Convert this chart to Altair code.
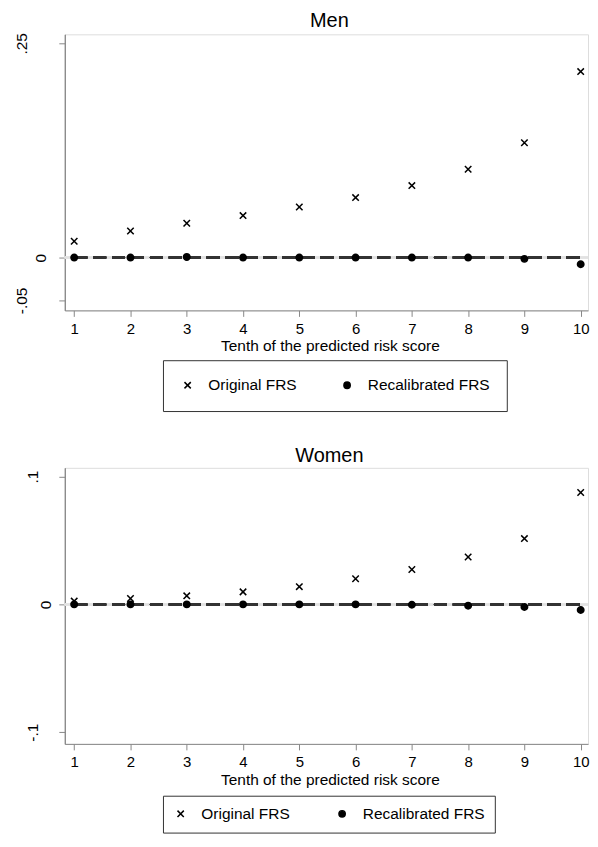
import altair as alt
import pandas as pd

# ---------------- data ----------------
deciles = list(range(1, 11))
series = ["Original FRS", "Recalibrated FRS"]

men_original = [0.019, 0.031, 0.040, 0.049, 0.059, 0.070, 0.084, 0.103, 0.134, 0.217]
men_recalibrated = [0.0, 0.0, 0.0008, 0.0, 0.0, 0.0, 0.0, 0.0, -0.0015, -0.0077]

women_original = [0.0026, 0.0046, 0.0067, 0.0098, 0.0139, 0.0201, 0.0273, 0.0371, 0.0515, 0.0876]
women_recalibrated = [0.0, 0.0, 0.0, 0.0, 0.0, 0.0, -0.0003, -0.001, -0.002, -0.0044]

men_y_ticks = [-0.05, 0.25]
women_y_ticks = [-0.1, 0.1]
zero_tick = [0]
panel_titles = ["Men", "Women"]
x_title = "Tenth of the predicted risk score"

# ---------------- style ----------------
FONT = "Liberation Sans"
FS = 15.5
X_PATH = "M-1,-1L1,1M1,-1L-1,1"
DOT_PATH = "M1,0A1,1,0,1,1,-1,0A1,1,0,1,1,1,0Z"
AXIS_COL = "#555555"
LABEL_EXPR = "datum.value === 0 ? '0' : replace(toString(datum.value), '0.', '.')"
PLOT_W = 525


def y_axis(values, pad):
    return alt.Axis(values=values, title=None, grid=False, tickSize=6, orient="left",
                    labelAngle=270, labelAlign="center", labelBaseline="alphabetic",
                    labelPadding=pad, labelExpr=LABEL_EXPR, labelFontSize=FS,
                    minExtent=52)


def panel(title, orig, recal, yticks, ydomain, height, pad_other, pad_zero,
          leg_y, leg_pad, leg_colpad):
    df = pd.DataFrame({
        "tenth": deciles * 2,
        "value": orig + recal,
        "series": [series[0]] * len(deciles) + [series[1]] * len(deciles),
    })
    xscale = alt.Scale(domain=[0.833, 10.13], nice=False, zero=False)
    yscale = alt.Scale(domain=ydomain, nice=False, zero=False)

    xaxis = alt.Axis(values=deciles, title=x_title, format="d", labelAngle=0,
                     labelPadding=5, titlePadding=2.5, tickSize=6, grid=False,
                     labelFontSize=15, titleFontSize=FS, titleFontWeight="normal",
                     titleX=266)

    legend = alt.Legend(orient="none", legendX=98.5, legendY=leg_y, direction="horizontal",
                        columns=2, title=None, strokeColor="#333333", padding=leg_pad,
                        columnPadding=leg_colpad, labelOffset=13, symbolSize=40,
                        symbolStrokeColor="black", symbolStrokeWidth=1.5,
                        labelFont=FONT, labelFontSize=FS, labelColor="black")

    base = alt.Chart(df)

    grid = base.mark_rule(color="#e2e2e2", strokeWidth=1.5).encode(
        y=alt.datum(0, scale=yscale, axis=y_axis(zero_tick, pad_zero))
    )
    ref = base.mark_rule(color="#333333", strokeWidth=2, strokeDash=[13, 6]).encode(
        x=alt.datum(1, scale=xscale),
        x2=alt.datum(10),
        y=alt.datum(0, scale=yscale, axis=None),
    )
    points = base.mark_point(filled=False, strokeWidth=1.5, size=42, opacity=1).encode(
        x=alt.X("tenth:Q", scale=xscale, axis=xaxis),
        y=alt.Y("value:Q", scale=yscale, axis=y_axis(yticks, pad_other)),
        shape=alt.Shape("series:N", scale=alt.Scale(domain=series, range=[X_PATH, DOT_PATH]),
                        legend=legend),
        fill=alt.Fill("series:N", scale=alt.Scale(domain=series, range=["transparent", "black"]),
                      legend=legend),
        stroke=alt.Stroke("series:N", scale=alt.Scale(domain=series, range=["black", "black"]),
                          legend=legend),
    )
    return alt.layer(grid, ref, points).resolve_axis(y="independent").properties(
        width=PLOT_W, height=height,
        title=alt.TitleParams(title, fontSize=20, font=FONT, fontWeight="normal",
                              anchor="middle", frame="group", offset=2, color="black", dx=3),
    )


men = panel(panel_titles[0], men_original, men_recalibrated, men_y_ticks,
            [-0.0616, 0.2605], 277, 32, 13, 327, 17, 42)
women = panel(panel_titles[1], women_original, women_recalibrated, women_y_ticks,
              [-0.1092, 0.1069], 277, 21, 8, 329, 10, 44)

chart = alt.vconcat(men, women, spacing=33).resolve_scale(
    x="independent", y="independent"
).resolve_legend(
    shape="independent", fill="independent", stroke="independent"
).properties(
    padding={"left": 4, "top": 0, "right": 0, "bottom": 0}
).configure_view(
    stroke=None
).configure_axis(
    domainColor=AXIS_COL, tickColor=AXIS_COL, domainWidth=1.3, tickWidth=1.3,
    labelColor="black", titleColor="black", labelFont=FONT, titleFont=FONT,
).configure(background="white")

chart.save("out.html", embed_options={"renderer": "svg", "actions": False})
